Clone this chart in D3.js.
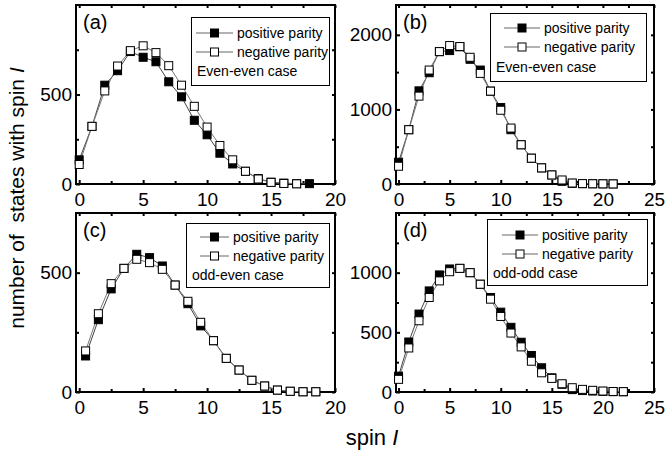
<!DOCTYPE html>
<html>
<head>
<meta charset="utf-8">
<script src="https://cdn.jsdelivr.net/npm/d3@7"></script>
<style>
  body { margin: 0; background: #fff; }
  text { font-family: "Liberation Sans", Arial, Helvetica, sans-serif; fill: #000; }
</style>
</head>
<body>
<script>
'use strict';

// spin values
const spinA = [0, 1, 2, 3, 4, 5, 6, 7, 8, 9, 10, 11, 12, 13, 14, 15, 16, 17, 18];
const spinB = [0, 1, 2, 3, 4, 5, 6, 7, 8, 9, 10, 11, 12, 13, 14, 15, 16, 17, 18, 19, 20, 21];
const spinC = [0.5, 1.5, 2.5, 3.5, 4.5, 5.5, 6.5, 7.5, 8.5, 9.5, 10.5, 11.5, 12.5, 13.5, 14.5, 15.5, 16.5, 17.5, 18.5];
const spinD = [0, 1, 2, 3, 4, 5, 6, 7, 8, 9, 10, 11, 12, 13, 14, 15, 16, 17, 18, 19, 20, 21, 22];

// number of states, positive / negative parity
const posA = [135, 322, 552, 633, 740, 708, 683, 571, 487, 356, 275, 172, 112, 71, 30, 10, 5, 2, 2];
const negA = [109, 322, 520, 659, 745, 772, 734, 661, 552, 434, 318, 215, 135, 71, 28, 9, 3, 1];
const posB = [292, 728, 1249, 1492, 1775, 1789, 1840, 1672, 1528, 1245, 1025, 728, 526, 346, 216, 121, 36, 9, 5, 3, 2, 1];
const negB = [238, 728, 1178, 1528, 1775, 1856, 1843, 1699, 1483, 1245, 989, 750, 526, 346, 216, 121, 54, 13, 5, 3, 2, 1];
const posC = [151, 303, 432, 518, 577, 563, 528, 448, 370, 277, 215, 141, 92, 49, 25, 8, 3, 1, 1];
const negC = [172, 328, 454, 518, 556, 542, 514, 448, 380, 292, 215, 141, 92, 49, 25, 8, 3, 1, 1];
const posD = [133, 419, 653, 847, 981, 1031, 1036, 1000, 903, 792, 669, 542, 417, 306, 203, 119, 65, 20, 12, 8, 5, 3, 2];
const negD = [106, 369, 597, 792, 931, 1008, 1036, 1000, 903, 778, 633, 494, 378, 258, 161, 114, 69, 36, 22, 14, 8, 4, 3];

// tick values
const xMajorA = [0, 5, 10, 15, 20];
const xMinorA = [2.5, 7.5, 12.5, 17.5];
const xMajorB = [0, 5, 10, 15, 20, 25];
const xMinorB = [2.5, 7.5, 12.5, 17.5, 22.5];
const yMajorA = [0, 500], yMinorA = [250, 750];
const yMajorB = [0, 1000, 2000], yMinorB = [500, 1500];
const yMajorC = [0, 500], yMinorC = [250];
const yMajorD = [0, 500, 1000], yMinorD = [250, 750, 1250];

const legendLabels = ["positive parity", "negative parity"];
const caseLabels = ["Even-even case", "Even-even case", "odd-even case", "odd-odd case"];
const panelLabels = ["(a)", "(b)", "(c)", "(d)"];

const svg = d3.select('body')
  .append('svg')
  .attr('width', 665)
  .attr('height', 453);

// layout of the four panels
const panels = [
  { spin: spinA, pos: posA, neg: negA, xMax: 20, yMax: 1000, xMajor: xMajorA, xMinor: xMinorA, yMajor: yMajorA, yMinor: yMinorA,
    box: { l: 76, r: 335, t: 5, b: 184 }, leg: { x: 191, y: 17, w: 138, h: 68, lineX: 196, textX: 237, rows: [33, 52, 71] } },
  { spin: spinB, pos: posB, neg: negB, xMax: 25, yMax: 2400, xMajor: xMajorB, xMinor: xMinorB, yMajor: yMajorB, yMinor: yMinorB,
    box: { l: 396, r: 654, t: 5, b: 184 }, leg: { x: 490, y: 13, w: 156, h: 68, lineX: 504, textX: 544, rows: [28, 47, 67] } },
  { spin: spinC, pos: posC, neg: negC, xMax: 20, yMax: 750, xMajor: xMajorA, xMinor: xMinorA, yMajor: yMajorC, yMinor: yMinorC,
    box: { l: 76, r: 335, t: 213, b: 392 }, leg: { x: 186, y: 223, w: 143, h: 64, lineX: 200, textX: 233, rows: [237, 256, 275] } },
  { spin: spinD, pos: posD, neg: negD, xMax: 25, yMax: 1500, xMajor: xMajorB, xMinor: xMinorB, yMajor: yMajorD, yMinor: yMinorD,
    box: { l: 396, r: 654, t: 213, b: 392 }, leg: { x: 487, y: 219, w: 160, h: 66, lineX: 502, textX: 542, rows: [235, 254, 273] } }
];

panels.forEach((p, i) => drawPanel(p, i));

// axis titles
svg.append('text')
  .attr('transform', 'translate(24, 198)rotate(-90)')
  .attr('text-anchor', 'middle')
  .style('font-size', '21px')
  .style('white-space', 'pre')
  .html('number of  states with spin <tspan font-style="italic">I</tspan>');

svg.append('text')
  .attr('x', 372)
  .attr('y', 445)
  .attr('text-anchor', 'middle')
  .style('font-size', '22px')
  .html('spin <tspan font-style="italic">I</tspan>');

function drawPanel(p, i) {
  const b = p.box;
  const x = d3.scaleLinear().domain([-0.25, p.xMax]).range([b.l, b.r]);
  const y = d3.scaleLinear().domain([0, p.yMax]).range([b.b, b.t]);

  // major ticks with labels (inward)
  const gx = svg.append('g')
    .attr('transform', 'translate(0,' + b.b + ')')
    .call(d3.axisBottom(x).tickValues(p.xMajor).tickSize(-4).tickPadding(9).tickFormat(d3.format('d')));
  const gy = svg.append('g')
    .attr('transform', 'translate(' + b.l + ',0)')
    .call(d3.axisLeft(y).tickValues(p.yMajor).tickSize(-4).tickPadding(4).tickFormat(d3.format('d')));
  // minor ticks
  const gx2 = svg.append('g')
    .attr('transform', 'translate(0,' + b.b + ')')
    .call(d3.axisBottom(x).tickValues(p.xMinor).tickSize(-3).tickFormat(''));
  const gy2 = svg.append('g')
    .attr('transform', 'translate(' + b.l + ',0)')
    .call(d3.axisLeft(y).tickValues(p.yMinor).tickSize(-3).tickFormat(''));
  // mirrored ticks on top and right
  const gt = svg.append('g')
    .attr('transform', 'translate(0,' + b.t + ')')
    .call(d3.axisTop(x).tickValues(p.xMajor.concat(p.xMinor)).tickSize(-3).tickFormat(''));
  const gr = svg.append('g')
    .attr('transform', 'translate(' + b.r + ',0)')
    .call(d3.axisRight(y).tickValues(p.yMajor.concat(p.yMinor)).tickSize(-3).tickFormat(''));

  [gx, gy, gx2, gy2, gt, gr].forEach((g) => {
    g.select('.domain').remove();
    g.selectAll('line').attr('stroke', '#000').attr('stroke-width', 2);
    g.selectAll('text').style('font-size', '19px').attr('font-family', null);
  });

  // frame
  svg.append('rect')
    .attr('x', b.l)
    .attr('y', b.t)
    .attr('width', b.r - b.l)
    .attr('height', b.b - b.t)
    .attr('fill', 'none')
    .attr('stroke', '#000')
    .attr('stroke-width', 2);

  const posPts = p.pos.map((v, k) => [p.spin[k], v]);
  const negPts = p.neg.map((v, k) => [p.spin[k], v]);
  const line = d3.line().x((d) => x(d[0])).y((d) => y(d[1]));

  svg.append('path').attr('d', line(posPts)).attr('fill', 'none').attr('stroke', '#444').attr('stroke-width', 1);
  svg.append('path').attr('d', line(negPts)).attr('fill', 'none').attr('stroke', '#777').attr('stroke-width', 1);

  const s = 8;
  svg.append('g').selectAll('rect')
    .data(posPts)
    .enter()
    .append('rect')
    .attr('x', (d) => x(d[0]) - s / 2)
    .attr('y', (d) => y(d[1]) - s / 2)
    .attr('width', s)
    .attr('height', s)
    .attr('fill', '#000')
    .attr('stroke', '#000');

  svg.append('g').selectAll('rect')
    .data(negPts)
    .enter()
    .append('rect')
    .attr('x', (d) => x(d[0]) - s / 2)
    .attr('y', (d) => y(d[1]) - s / 2)
    .attr('width', s)
    .attr('height', s)
    .attr('fill', '#fff')
    .attr('stroke', '#000');

  // panel label
  svg.append('text')
    .attr('x', b.l + 7)
    .attr('y', b.t + 24)
    .style('font-size', '20px')
    .text(panelLabels[i]);

  // legend
  const L = p.leg;
  svg.append('rect')
    .attr('x', L.x + 0.5)
    .attr('y', L.y + 0.5)
    .attr('width', L.w)
    .attr('height', L.h)
    .attr('fill', '#fff')
    .attr('stroke', '#000')
    .attr('stroke-width', 1);

  legendLabels.forEach((lab, k) => {
    const cy = L.rows[k];
    const cx = L.lineX + (L.textX - 4 - L.lineX) / 2;
    svg.append('line')
      .attr('x1', L.lineX).attr('x2', L.textX - 4)
      .attr('y1', cy).attr('y2', cy)
      .attr('stroke', '#666').attr('stroke-width', 1);
    svg.append('rect')
      .attr('x', cx - s / 2).attr('y', cy - s / 2)
      .attr('width', s).attr('height', s)
      .attr('fill', k === 0 ? '#000' : '#fff')
      .attr('stroke', '#000');
    svg.append('text')
      .attr('x', L.textX)
      .attr('y', cy)
      .attr('dy', '0.35em')
      .style('font-size', '14px')
      .text(lab);
  });
  svg.append('text')
    .attr('x', L.x + 6)
    .attr('y', L.rows[2])
    .attr('dy', '0.35em')
    .style('font-size', '14px')
    .text(caseLabels[i]);
}
</script>
</body>
</html>
